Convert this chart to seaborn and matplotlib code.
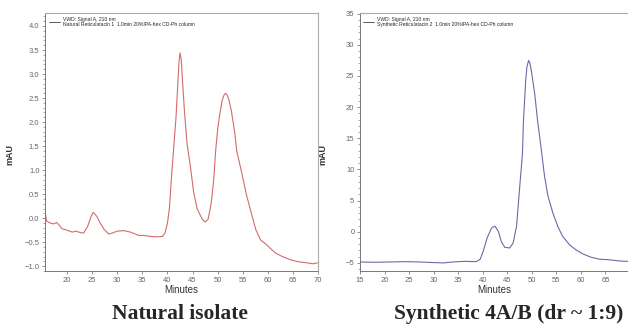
import matplotlib
matplotlib.use("Agg")
import matplotlib.pyplot as plt
from matplotlib.ticker import MultipleLocator
import seaborn as sns
import pandas as pd

# left chromatogram: natural isolate (minutes, mAU)
nat_time = [15.6, 15.9, 16.6, 17.3, 17.9, 18.3, 19.0, 20.0, 21.0, 21.8, 22.6, 23.3,
            24.1, 24.8, 25.2, 25.9, 26.6, 27.4, 28.3, 29.0, 30.0, 31.3, 32.6, 33.6,
            34.3, 35.3, 36.6, 38.0, 39.0, 39.5, 40.0, 40.4, 40.7, 41.1, 41.7, 42.1,
            42.3, 42.5, 42.75, 43.0, 43.4, 43.9, 44.6, 45.2, 45.9, 46.9, 47.5, 48.1,
            48.7, 49.2, 49.6, 50.0, 50.4, 50.9, 51.3, 51.6, 51.9, 52.3, 52.7, 53.4,
            53.8, 54.7, 55.7, 56.7, 57.6, 58.6, 59.6, 60.6, 61.6, 62.9, 64.6, 66.2,
            67.9, 68.9, 69.9]
nat_mau = [0.15, -0.06, -0.10, -0.12, -0.09, -0.13, -0.22, -0.25, -0.29, -0.27, -0.30, -0.31,
           -0.17, 0.04, 0.12, 0.04, -0.10, -0.24, -0.33, -0.31, -0.27, -0.26, -0.29, -0.33,
           -0.36, -0.36, -0.38, -0.39, -0.38, -0.31, -0.10, 0.22, 0.71, 1.27, 2.10, 2.88,
           3.25, 3.44, 3.30, 2.85, 2.20, 1.55, 1.05, 0.55, 0.20, -0.02, -0.08, -0.02,
           0.30, 0.78, 1.40, 1.85, 2.15, 2.45, 2.57, 2.60, 2.56, 2.44, 2.25, 1.79,
           1.40, 0.99, 0.50, 0.11, -0.24, -0.46, -0.54, -0.64, -0.73, -0.80, -0.87, -0.91,
           -0.93, -0.95, -0.93]

# right chromatogram: synthetic 4A/B
syn_time = [15.0, 18.0, 21.0, 24.0, 27.0, 30.0, 32.0, 34.0, 36.3, 38.7, 39.5, 40.2,
            40.9, 41.8, 42.5, 43.2, 43.8, 44.5, 45.5, 46.2, 46.9, 47.5, 48.1, 48.3,
            48.75, 49.0, 49.35, 49.6, 49.9, 50.6, 51.2, 51.9, 52.6, 53.3, 54.3, 55.3,
            56.3, 57.7, 59.0, 60.4, 62.1, 63.8, 65.8, 67.9, 69.6]
syn_mau = [-4.85, -4.9, -4.85, -4.8, -4.85, -4.95, -5.0, -4.85, -4.75, -4.8, -4.4, -2.9,
           -1.0, 0.6, 0.9, 0.05, -1.6, -2.5, -2.6, -1.8, 0.9, 6.8, 12.5, 17.7,
           24.2, 26.4, 27.5, 27.1, 25.9, 22.1, 17.7, 13.4, 8.9, 5.7, 3.0, 0.85,
           -0.76, -2.1, -2.9, -3.55, -4.1, -4.4, -4.5, -4.7, -4.75]

nat_legend = "VWD: Signal A, 210 nm\nNatural Reticulatacin 1  1.0min 20%IPA-hex CD-Ph column"
syn_legend = "VWD: Signal A, 210 nm\nSynthetic Reticulatacin 2  1.0min 20%IPA-hex CD-Ph column"

sns.set_style("ticks")
plt.rcParams["font.family"] = ["Liberation Sans", "DejaVu Sans"]

fig = plt.figure(figsize=(6.28, 3.26), dpi=100)
ax1 = fig.add_axes([0.0717, 0.1687, 0.4347, 0.7914])
ax2 = fig.add_axes([0.5732, 0.1687, 0.4268, 0.7914])

panels = [
    (ax1, nat_time, nat_mau, "#d46a6a", nat_legend, (15.6, 70), (-1.1, 4.27), 0.5, 0.1, -0.114),
    (ax2, syn_time, syn_mau, "#6a6aa8", syn_legend, (15, 69.6), (-6.3, 35.1), 5, 1, -0.12),
]

for ax, t, v, col, lab, xl, yl, ymaj, ymin, ylab_x in panels:
    df = pd.DataFrame({"Minutes": t, "mAU": v})
    sns.lineplot(data=df, x="Minutes", y="mAU", ax=ax, color=col, lw=0.8, label=lab,
                 sort=False)
    ax.set_xlim(*xl)
    ax.set_ylim(*yl)
    ax.xaxis.set_major_locator(MultipleLocator(5))
    ax.yaxis.set_major_locator(MultipleLocator(ymaj))
    ax.yaxis.set_minor_locator(MultipleLocator(ymin))
    ax.tick_params(axis="both", which="major", labelsize=5.5, labelcolor="#666666",
                   length=2.5, width=0.5, color="#666666", pad=1.5)
    ax.tick_params(axis="y", which="minor", length=1.3, width=0.4, color="#666666")
    ax.set_xlabel("Minutes", fontsize=7, color="#333333", labelpad=1)
    ax.set_ylabel("mAU", fontsize=6.5, fontweight="bold", color="#333333")
    ax.yaxis.set_label_coords(ylab_x, 0.45)
    for s in ["left", "bottom"]:
        ax.spines[s].set_color("#777777")
        ax.spines[s].set_linewidth(0.7)
    for s in ["top", "right"]:
        ax.spines[s].set_color("#aaaaaa")
        ax.spines[s].set_linewidth(0.8)
    leg = ax.legend(loc="upper left", frameon=False, fontsize=3.6, handlelength=2.2,
                    handletextpad=0.6, borderaxespad=0.3)
    for line in leg.get_lines():
        line.set_color("#444444")
        line.set_linewidth(0.6)

ax2.spines["right"].set_visible(False)

fig.text(180 / 628, 1 - 314 / 326, "Natural isolate", ha="center", va="center",
         fontsize=15.5, fontweight="bold", family=["Liberation Serif", "DejaVu Serif"])
fig.text(509 / 628, 1 - 314 / 326, "Synthetic 4A/B (dr ~ 1:9)", ha="center", va="center",
         fontsize=15.5, fontweight="bold", family=["Liberation Serif", "DejaVu Serif"])

fig.savefig("out.png", dpi=100)
